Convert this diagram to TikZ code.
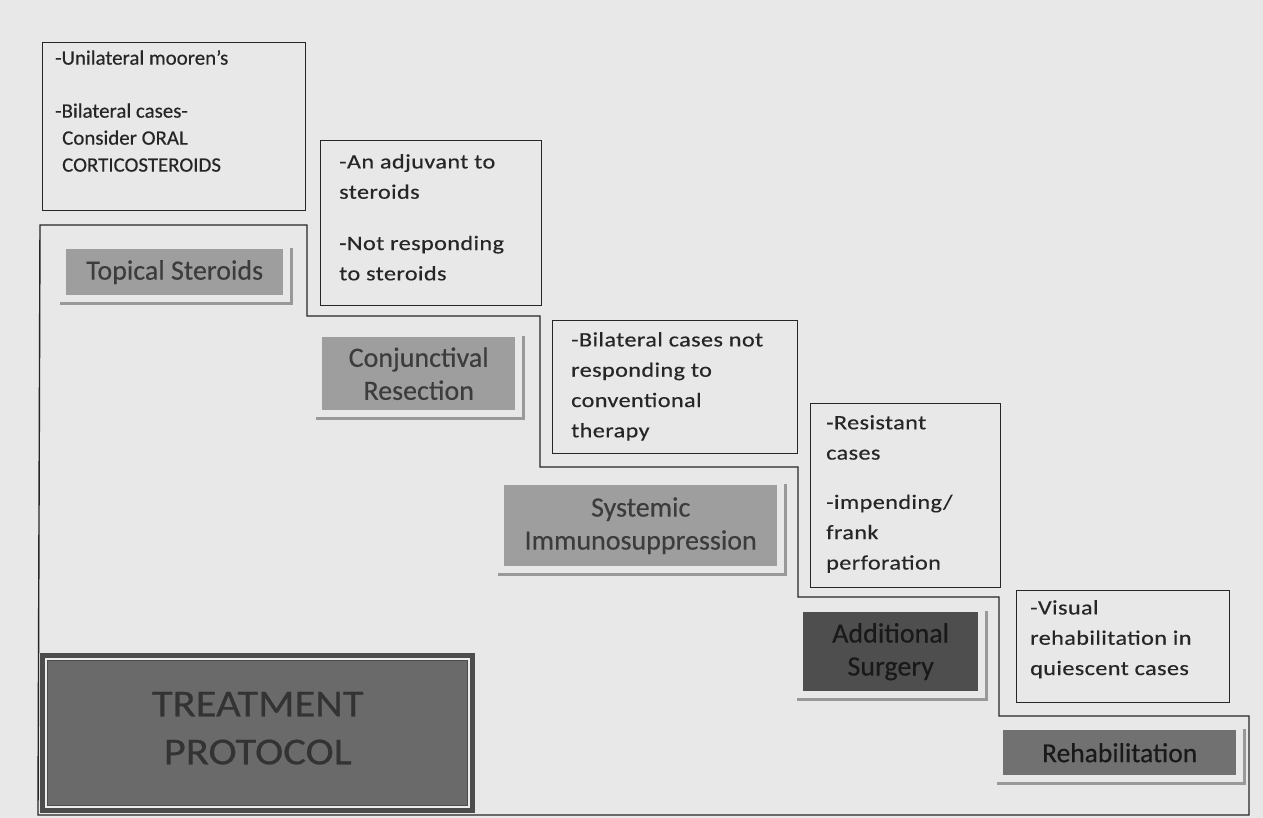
\documentclass[tikz,border=0pt]{standalone}
\usepackage{fontspec}
\setmainfont{Carlito}
\newfontfamily\boxfont{Carlito}[FakeStretch=1.18,LetterSpace=2,FakeBold=0.4]
\newfontfamily\firstfont{Carlito}[FakeStretch=1.02,FakeBold=0.4]
\newfontfamily\labelfont{Carlito}[FakeBold=0.3]
\newfontfamily\titlefont{Carlito}[FakeStretch=1.12,FakeBold=0.5]
\usetikzlibrary{calc}
\definecolor{paper}{HTML}{E8E8E8}
\definecolor{ink}{HTML}{262626}
\definecolor{lightlab}{HTML}{9E9E9E}
\definecolor{midlab}{HTML}{717171}
\definecolor{darklab}{HTML}{4E4E4E}
\definecolor{shadowc}{HTML}{999999}
\definecolor{tpouter}{HTML}{4C4C4C}
\definecolor{tpinner}{HTML}{6A6A6A}
\tikzset{
  infobox/.style={draw=ink, line width=1.3pt, anchor=north west, inner sep=0pt},
  boxtext/.style={anchor=north west, inner sep=0pt, align=left, text=ink,
    font=\boxfont\fontsize{20.5}{30.3}\selectfont},
  steplabel/.style={anchor=north west, inner sep=0pt, align=center, text=ink!90,
    font=\labelfont\fontsize{28}{33}\selectfont},
  shadowline/.style={draw=shadowc, line width=2.2pt},
  outline/.style={draw=ink, line width=1.4pt},
}
\begin{document}
\begin{tikzpicture}[x=1pt,y=-1pt]
\fill[paper] (0,0) rectangle (1263,818);
\useasboundingbox (0,0) rectangle (1263,818);

% staircase outline
\draw[outline] (40,225) -- (307,225) -- (307,316) -- (540,316) -- (540,467)
  -- (798,467) -- (798,597) -- (999,597) -- (999,716) -- (1249,716)
  -- (1249,815) -- (38,815) -- cycle;

% info boxes
\node[infobox, minimum width=263pt, minimum height=168pt] (b1) at (42,42) {};
\node[boxtext, font=\firstfont\fontsize{20.5}{27}\selectfont] (t1) at ($(b1.north west)+(13,8)$)
  {-Unilateral mooren’s\\[26pt]-Bilateral cases-\\\hspace*{7pt}Consider ORAL\\\hspace*{7pt}CORTICOSTEROIDS};

\node[infobox, minimum width=221pt, minimum height=165pt] (b2) at (320,140) {};
\node[boxtext] (t2) at ($(b2.north west)+(19,14)$)
  {-An adjuvant to\\steroids\\[21pt]-Not responding\\to steroids};

\node[infobox, minimum width=245pt, minimum height=133pt] (b3) at (552,320) {};
\node[boxtext] (t3) at ($(b3.north west)+(19,12)$)
  {-Bilateral cases not\\responding to\\conventional\\therapy};

\node[infobox, minimum width=190pt, minimum height=184pt] (b4) at (810,403) {};
\node[boxtext] (t4) at ($(b4.north west)+(16,12)$)
  {-Resistant\\cases\\[19pt]-impending/\\frank\\perforation};

\node[infobox, minimum width=213pt, minimum height=112pt] (b5) at (1016,590) {};
\node[boxtext] (t5) at ($(b5.north west)+(14,10)$)
  {-Visual\\rehabilitation in\\quiescent cases};

% step labels
\node[steplabel, fill=lightlab, minimum width=217pt, minimum height=46pt] (ts) at (66,249) {Topical Steroids};
\draw[shadowline] ($(ts.south west)+(-6,8)$) -- ($(ts.south east)+(8,8)$) -- ($(ts.north east)+(8,-1)$);

\node[steplabel, fill=lightlab, minimum width=193pt, minimum height=73pt] (cr) at (322,337) {Conjunctival\\Resection};
\draw[shadowline] ($(cr.south west)+(-6,8)$) -- ($(cr.south east)+(8,8)$) -- ($(cr.north east)+(8,-1)$);

\node[steplabel, fill=lightlab, minimum width=273pt, minimum height=81pt] (si) at (504,485) {Systemic\\Immunosuppression};
\draw[shadowline] ($(si.south west)+(-6,8)$) -- ($(si.south east)+(8,8)$) -- ($(si.north east)+(8,-1)$);

\node[steplabel, fill=darklab, text=black!90, minimum width=175pt, minimum height=79pt] (as) at (803,612) {Additional\\Surgery};
\draw[shadowline] ($(as.south west)+(-6,8)$) -- ($(as.south east)+(8,8)$) -- ($(as.north east)+(8,-1)$);

\node[steplabel, fill=midlab, text=black!90, font=\labelfont\fontsize{27.5}{30}\selectfont, minimum width=233pt, minimum height=45pt] (rh) at (1003,730) {Rehabilitation};
\draw[shadowline] ($(rh.south west)+(-6,8)$) -- ($(rh.south east)+(8,8)$) -- ($(rh.north east)+(8,-1)$);

% treatment protocol
\fill[tpouter] (40,653) rectangle (475,813);
\draw[white!85!gray, line width=2pt] (46,659) rectangle (469,807);
\node[anchor=north west, inner sep=0pt, fill=tpinner, minimum width=419pt, minimum height=144pt] (tp) at (48,661) {};
\node[anchor=center, inner sep=0pt, align=center, text=black!80,
  font=\titlefont\fontsize{38}{48}\selectfont] (tptext) at ($(tp.center)+(0,-5)$) {TREATMENT\\PROTOCOL};
\end{tikzpicture}
\end{document}
